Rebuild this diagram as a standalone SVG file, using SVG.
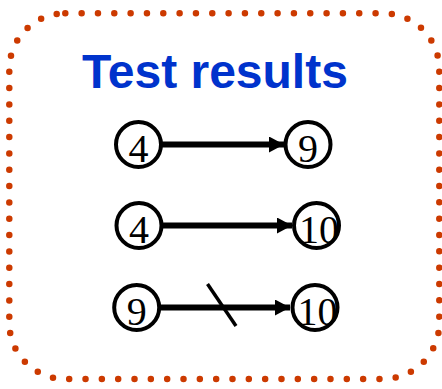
<svg xmlns="http://www.w3.org/2000/svg" width="442" height="389" viewBox="0 0 442 389">
  <defs>
    <marker id="arrow" viewBox="0 0 15 16" refX="15" refY="8" markerWidth="15" markerHeight="16" markerUnits="userSpaceOnUse" orient="auto">
      <path d="M0,0 L15,8 L0,16 Z" fill="#000"/>
    </marker>
    <style>
      .frame { fill: none; stroke: #cc3a00; stroke-width: 6.5; stroke-linecap: round; stroke-dasharray: 0 16.33; }
      .title { font-family: "Liberation Sans", Arial, sans-serif; font-weight: bold; font-size: 48px; fill: #0033cc; }
      .node circle { fill: #fff; stroke: #000; stroke-width: 4; }
      .node text { font-family: "Liberation Serif", "Times New Roman", serif; font-size: 40px; fill: #000; text-anchor: middle; }
      .edge { stroke: #000; stroke-width: 6; fill: none; marker-end: url(#arrow); }
      .cut { stroke: #000; stroke-width: 3.5; fill: none; }
    </style>
  </defs>

  <!-- dotted rounded frame -->
  <rect class="frame" x="9.3" y="13.3" width="430" height="365.7" rx="56" ry="56"/>

  <text class="title" x="82" y="88">Test results</text>

  <!-- connectors -->
  <g id="connectors">
    <line class="edge" x1="162" y1="144.5" x2="284" y2="144.5"/>
    <line class="edge" x1="162" y1="225.5" x2="292" y2="225.5"/>
    <line class="edge" x1="160" y1="307.5" x2="290" y2="307.5"/>
    <line class="cut" x1="207.5" y1="284" x2="236" y2="326"/>
  </g>

  <!-- nodes -->
  <g id="n1-4" class="node">
    <circle cx="138.5" cy="144.5" r="22.5"/>
    <text x="138.5" y="162">4</text>
  </g>
  <g id="n1-9" class="node">
    <circle cx="308" cy="144.5" r="22.5"/>
    <text x="308" y="162">9</text>
  </g>
  <g id="n2-4" class="node">
    <circle cx="139" cy="225.5" r="22.5"/>
    <text x="139" y="243">4</text>
  </g>
  <g id="n2-10" class="node">
    <circle cx="316.5" cy="225.5" r="22.5"/>
    <text x="319" y="243">10</text>
  </g>
  <g id="n3-9" class="node">
    <circle cx="136.7" cy="307.5" r="22.5"/>
    <text x="136.7" y="325">9</text>
  </g>
  <g id="n3-10" class="node">
    <circle cx="315" cy="307.5" r="22.5"/>
    <text x="317.5" y="325">10</text>
  </g>
</svg>
